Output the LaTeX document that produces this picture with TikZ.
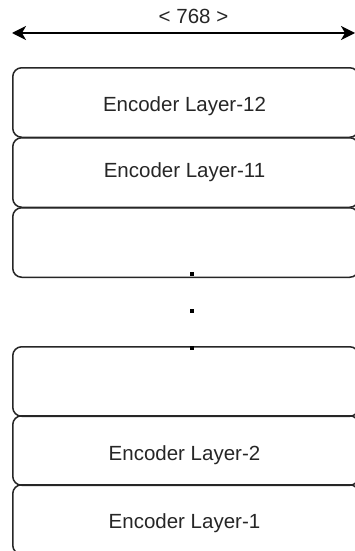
\documentclass[tikz,border=0pt]{standalone}
\usepackage{fontspec}
\setmainfont{Liberation Sans}
\usetikzlibrary{arrows.meta}
\definecolor{edge}{HTML}{262626}
\tikzset{
  layerbox/.style={draw=edge, line width=1.5pt, rounded corners=9pt, inner sep=0pt, anchor=north west, minimum width=346pt, minimum height=69.5pt},
  layertext/.style={anchor=base, inner sep=0pt, font=\fontsize{20.5}{24}\selectfont, text=black!85},
  dotmark/.style={fill=black, inner sep=0pt, minimum size=4.5pt},
  dimarrow/.style={draw=black, line width=1.5pt, {Stealth[length=14pt,width=14pt,inset=4pt]}-{Stealth[length=14pt,width=14pt,inset=4pt]}}
}
\begin{document}
\begin{tikzpicture}[x=1pt,y=1pt]
\useasboundingbox (0,0) rectangle (355,-551);
\clip (0,0) rectangle (355,-551);
% dimension arrow
\coordinate (aL) at (12,-33);
\coordinate (aR) at (355,-33);
\draw[dimarrow] (aL) -- (aR);
\node[layertext] (dim) at (193.5,-24) {< 768 >};
% boxes
\node[layerbox] (b12) at (12,-67) {};
\node[layerbox] (b11) at (12,-137) {};
\node[layerbox] (b10) at (12,-207) {};
\node[layerbox] (b3) at (12,-346) {};
\node[layerbox] (b2) at (12,-415) {};
\node[layerbox] (b1) at (12,-484) {};
% texts
\node[layertext] (t12) at (184.5,-111.7) {Encoder Layer-12};
\node[layertext] (t11) at (184.5,-177.5) {Encoder Layer-11};
\node[layertext] (t2) at (184.5,-460) {Encoder Layer-2};
\node[layertext] (t1) at (184.5,-528) {Encoder Layer-1};
% dots
\node[dotmark] (d1) at (192,-274) {};
\node[dotmark] (d2) at (192,-311) {};
\node[dotmark] (d3) at (192,-348) {};
\end{tikzpicture}
\end{document}
